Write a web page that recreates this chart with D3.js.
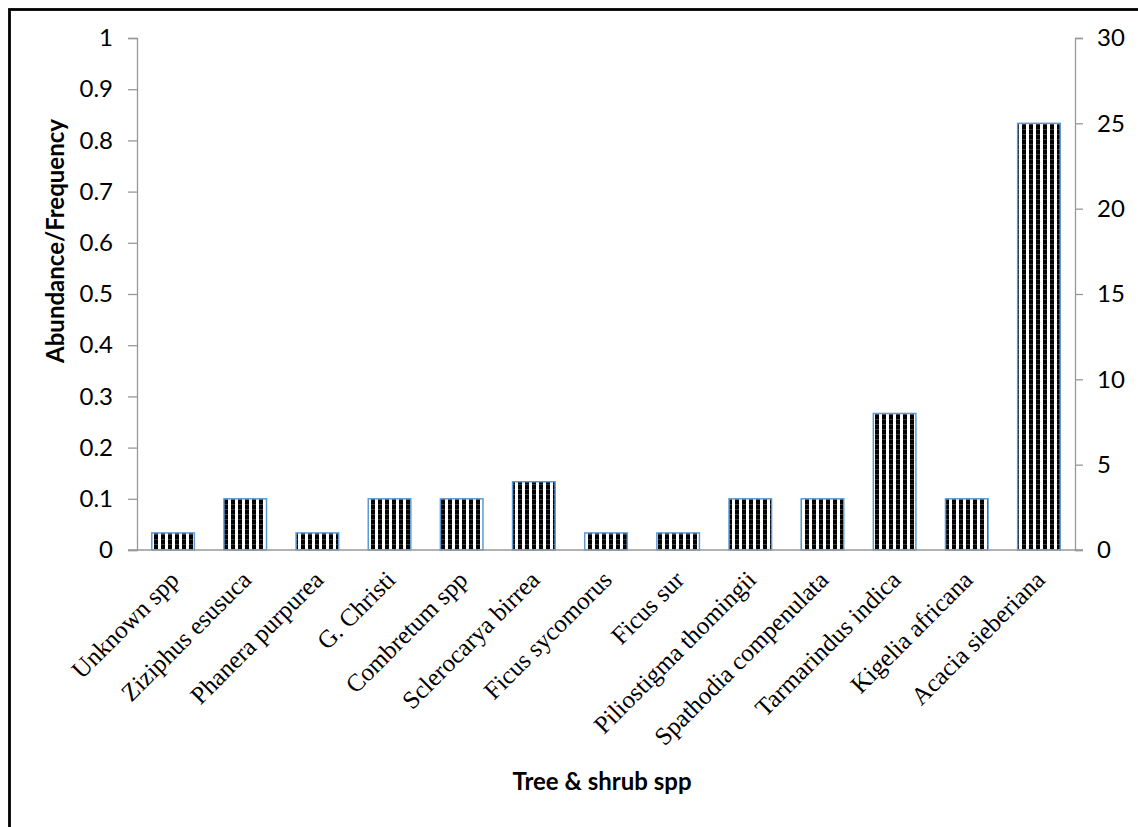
<!DOCTYPE html>
<html>
<head>
<meta charset="utf-8">
<script src="https://cdn.jsdelivr.net/npm/d3@7"></script>
<style>
  html, body { margin: 0; padding: 0; background: #fff; }
  svg { display: block; }
</style>
</head>
<body>
<svg id="chart" width="1138" height="827"></svg>
<script>
// Tree & shrub species and their counts (right axis); left axis shows count / total plots
const species = [
  "Unknown spp", "Ziziphus esusuca", "Phanera purpurea", "G. Christi",
  "Combretum spp", "Sclerocarya birrea", "Ficus sycomorus", "Ficus sur",
  "Piliostigma thomingii", "Spathodia compenulata", "Tarmarindus indica",
  "Kigelia africana", "Acacia sieberiana"
];
const counts = [1, 3, 1, 3, 3, 4, 1, 1, 3, 3, 8, 3, 25];
const leftTicks = [0, 0.1, 0.2, 0.3, 0.4, 0.5, 0.6, 0.7, 0.8, 0.9, 1];
const rightTicks = [0, 5, 10, 15, 20, 25, 30];

const svg = d3.select("#chart");
const W = 1138, H = 827;
const plot = { left: 137, right: 1075, top: 38, bottom: 550 };

// outer frame
svg.append("rect")
  .attr("x", 9.5).attr("y", 9.5)
  .attr("width", W + 20).attr("height", H + 20)
  .attr("fill", "none").attr("stroke", "#000").attr("stroke-width", 2.8);

// striped fill for the bars
const defs = svg.append("defs");
const pat = defs.append("pattern")
  .attr("id", "stripes").attr("patternUnits", "userSpaceOnUse")
  .attr("width", 7).attr("height", 5);
pat.append("rect").attr("width", 7).attr("height", 5).attr("fill", "#fff");
pat.append("rect").attr("x", 0).attr("width", 4).attr("height", 5).attr("fill", "#000");
pat.append("rect").attr("x", 0).attr("y", 4).attr("width", 4).attr("height", 1).attr("fill", "#3a3a3a");

const x = d3.scaleBand().domain(species).range([plot.left, plot.right]).paddingInner(0.41).paddingOuter(0.205);
const yL = d3.scaleLinear().domain([0, 1]).range([plot.bottom, plot.top]);
const yR = d3.scaleLinear().domain([0, 30]).range([plot.bottom, plot.top]);

const axisColor = "#999";
const numFont = "Lato, 'Open Sans', sans-serif";

// left axis
const gL = svg.append("g").attr("transform", `translate(${plot.left},0)`)
  .call(d3.axisLeft(yL).tickValues(leftTicks).tickSize(9).tickPadding(15)
    .tickFormat(d => d3.format("~g")(d)));
gL.select(".domain").attr("stroke", axisColor).attr("stroke-width", 1.3);
gL.selectAll(".tick line").attr("stroke", axisColor).attr("stroke-width", 1.3);
gL.selectAll(".tick text").attr("font-family", numFont).attr("font-size", 24).attr("fill", "#000");

// right axis
const gR = svg.append("g").attr("transform", `translate(${plot.right},0)`)
  .call(d3.axisRight(yR).tickValues(rightTicks).tickSize(8).tickPadding(14));
gR.select(".domain").attr("stroke", axisColor).attr("stroke-width", 1.3);
gR.selectAll(".tick line").attr("stroke", axisColor).attr("stroke-width", 1.3);
gR.selectAll(".tick text").attr("font-family", numFont).attr("font-size", 24).attr("fill", "#000");

// bars (heights from counts on the right scale)
svg.append("g").selectAll("rect").data(species).join("rect")
  .attr("x", d => x(d))
  .attr("y", (d, i) => yR(counts[i]))
  .attr("width", x.bandwidth())
  .attr("height", (d, i) => yR(0) - yR(counts[i]))
  .attr("fill", "url(#stripes)")
  .attr("stroke", "#5b9bd5").attr("stroke-width", 1.5);

// category axis line
svg.append("line")
  .attr("x1", plot.left - 9).attr("x2", plot.right + 8)
  .attr("y1", plot.bottom).attr("y2", plot.bottom)
  .attr("stroke", axisColor).attr("stroke-width", 1.3);

// rotated category labels
svg.append("g").selectAll("text").data(species).join("text")
  .attr("transform", d => `translate(${x(d) + x.bandwidth() / 2 - 5},${plot.bottom + 19}) rotate(-45)`)
  .attr("text-anchor", "end")
  .attr("dy", "0.7em")
  .attr("font-family", "'Liberation Serif', 'Times New Roman', serif")
  .attr("font-size", 25)
  .text(d => d);

// axis titles
svg.append("text")
  .attr("transform", "translate(64,241) rotate(-90)")
  .attr("text-anchor", "middle")
  .attr("font-family", numFont).attr("font-weight", "bold").attr("font-size", 24)
  .text("Abundance/Frequency");

svg.append("text")
  .attr("x", 602).attr("y", 790)
  .attr("text-anchor", "middle")
  .attr("font-family", numFont).attr("font-weight", "bold").attr("font-size", 24)
  .text("Tree & shrub spp");
</script>
</body>
</html>
